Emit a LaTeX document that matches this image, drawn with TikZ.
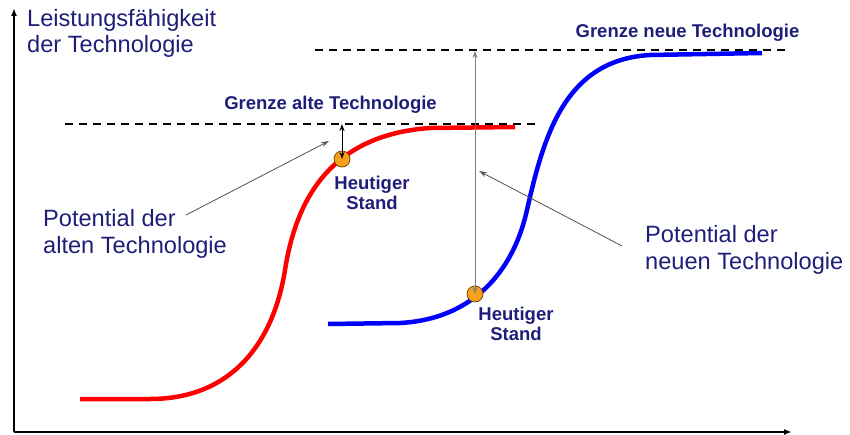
\documentclass[tikz,border=0pt]{standalone}
\usepackage{fontspec}
\setmainfont{Liberation Sans}
\usepackage{tikz}
\usetikzlibrary{arrows.meta,positioning}
\usepackage{xcolor}
\definecolor{navy}{HTML}{1E1E78}
\definecolor{altrot}{HTML}{FF0000}
\definecolor{neublau}{HTML}{0000FF}
\definecolor{punkt}{HTML}{F9A11B}
\definecolor{rand}{HTML}{6B3A00}
\definecolor{zeiger}{HTML}{505050}

\begin{document}
\begin{tikzpicture}[x=1pt,y=-1pt,
   ax/.style={-{Latex[length=8pt,width=6pt]},line width=1.6pt,black},
   grz/.style={black,line width=1.8pt,dash pattern=on 8pt off 6pt},
   kv/.style={line width=4.5pt},
   txt/.style={align=left,text=navy,inner sep=0pt,font=\fontsize{23.6}{26.7}\selectfont},
   bl/.style={align=center,text=navy,inner sep=1pt,font=\bfseries\fontsize{18.5}{20}\selectfont},
   pkt/.style={circle,draw=rand,fill=punkt,minimum size=16pt,inner sep=0pt,line width=0.7pt},
   ptr/.style={-{Stealth[length=8pt,width=5pt]},zeiger,line width=0.8pt},
   hub/.style={{Stealth[length=7pt,width=5pt]}-{Stealth[length=7pt,width=5pt]}}]
  \useasboundingbox (0,0) rectangle (850,435);
  % axes
  \coordinate (o) at (14,432);
  \coordinate (ytop) at (14,8);
  \coordinate (xend) at (792,432);
  \draw[ax] (o) -- (ytop);
  \draw[ax] (o) -- (xend);
  \node[txt,anchor=north west] (yl) at (27,9) {Leistungsfähigkeit\\der Technologie};
  % s-curves
  \draw[kv,altrot] (80,399) -- (150,399) .. controls (230,399) and (273,345) .. (285,270)
     .. controls (296,200) and (330,135) .. (430,128) -- (515,127);
  \draw[kv,neublau] (328,324) -- (400,323) .. controls (460,320) and (510,285) .. (527,210)
     .. controls (544,135) and (565,60) .. (650,55) -- (762,53);
  % limits
  \coordinate (ga1) at (65,124);
  \coordinate (ga2) at (535,124);
  \coordinate (gn1) at (315,50);
  \coordinate (gn2) at (787,50);
  \draw[grz] (ga1) -- (ga2);
  \draw[grz] (gn1) -- (gn2);
  \node[bl,anchor=base] (galt) at (330.5,110) {Grenze alte Technologie};
  \node[bl,anchor=base] (gneu) at (687.5,38) {Grenze neue Technologie};
  % today
  \node[pkt] (rdot) at (342,159) {};
  \node[pkt] (bdot) at (475,294) {};
  \node[bl,below=8pt of rdot,xshift=30pt] (rstand) {Heutiger\\Stand};
  \node[bl,below=4pt of bdot,xshift=41pt] (bstand) {Heutiger\\Stand};
  \coordinate (ra) at (342,124);
  \coordinate (na) at (475,51);
  \draw[hub,black,line width=1pt] (rdot.center) -- (ra);
  \draw[hub,gray,line width=0.8pt] (bdot.center) -- (na);
  % potential
  \node[txt,anchor=north west] (palt) at (43,209) {Potential der\\alten Technologie};
  \node[txt,anchor=north west] (pneu) at (645,225) {Potential der\\neuen Technologie};
  \coordinate (pa0) at (186,215);
  \coordinate (pa1) at (329,141);
  \coordinate (pn0) at (622,246);
  \coordinate (pn1) at (479,171);
  \draw[ptr] (pa0) -- (pa1);
  \draw[ptr] (pn0) -- (pn1);
\end{tikzpicture}
\end{document}
